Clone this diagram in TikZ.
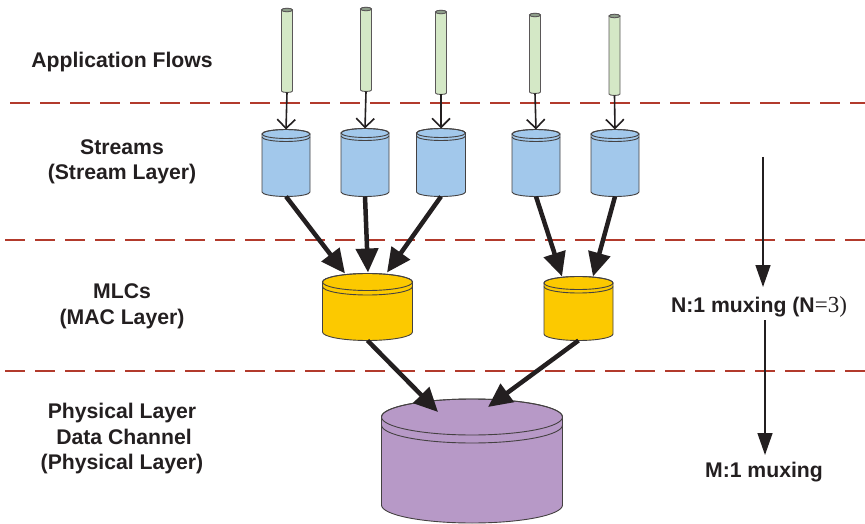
\documentclass[tikz,border=0pt]{standalone}
\usepackage{fontspec}
\setmainfont{Liberation Sans}
\newfontfamily\serifpart{Liberation Serif}
\usetikzlibrary{arrows.meta}
\definecolor{dashred}{HTML}{B23A2C}
\definecolor{streamblue}{HTML}{A2C8EB}
\definecolor{mlcyellow}{HTML}{FCC900}
\definecolor{physpurple}{HTML}{B799C7}
\definecolor{pipegreen}{HTML}{D4E8C6}
\definecolor{pipetop}{HTML}{8E9E8A}
\definecolor{ink}{HTML}{231F20}
\tikzset{
  drumline/.style={draw=ink!85,line width=0.9pt},
  pipeline/.style={draw=ink!75,line width=0.9pt},
  dashline/.style={draw=dashred,line width=2.6pt,dash pattern=on 20pt off 10pt},
  flowarrow/.style={draw=ink,line width=1.6pt,-{Straight Barb[length=9pt,width=18pt,line width=1.6pt]}},
  bigarrow/.style={draw=ink,line width=4.5pt,-{Triangle[length=24pt,width=22pt]}},
  muxarrow/.style={draw=ink,line width=1.4pt,-{Triangle[length=22pt,width=15pt]}},
  lbl/.style={text=ink,font=\fontsize{21.2}{25}\selectfont\bfseries,anchor=base,inner sep=0pt}
}
% name, cx, y of top ellipse centre, y of bottom ellipse centre, rx, ry, rim gap, fill
\newcommand\drum[8]{%
  \path[drumline,fill=#8] (#2-#5,#3) -- (#2-#5,#4)
     arc[start angle=180,end angle=360,x radius=#5pt,y radius=#6pt]
     -- (#2+#5,#3) arc[start angle=0,end angle=180,x radius=#5pt,y radius=#6pt] -- cycle;
  \draw[drumline] (#2,#3) ellipse[x radius=#5pt,y radius=#6pt];
  \draw[drumline] (#2-#5,#3+#7) arc[start angle=180,end angle=360,x radius=#5pt,y radius=#6pt];
  \coordinate (#1-t) at (#2,#3-#6);
  \coordinate (#1-b) at (#2,#4+#6);
}
% name, cx, ytop, ybottom
\newcommand\flowpipe[4]{%
  \path[pipeline,fill=pipegreen] (#2-5.5,#3) -- (#2-5.5,#4)
     arc[start angle=180,end angle=360,x radius=5.5pt,y radius=1.5pt]
     -- (#2+5.5,#3) arc[start angle=0,end angle=180,x radius=5.5pt,y radius=1.5pt] -- cycle;
  \draw[pipeline,fill=pipetop] (#2,#3) ellipse[x radius=5.5pt,y radius=1.8pt];
  \coordinate (#1-b) at (#2,#4+1.5);
}
\begin{document}
\begin{tikzpicture}[x=1pt,y=-1pt]
\useasboundingbox (0,0) rectangle (865,524);
% layer separators
\draw[dashline] (10,103) -- (865,103);
\draw[dashline] (5,240) -- (865,240);
\draw[dashline] (5,371) -- (865,371);
% left labels
\node[lbl] (lapp) at (122,68) {Application Flows};
\node[lbl] (lstr1) at (122,154) {Streams};
\node[lbl] (lstr2) at (122,179) {(Stream Layer)};
\node[lbl] (lmlc1) at (122,298) {MLCs};
\node[lbl] (lmlc2) at (122,324) {(MAC Layer)};
\node[lbl] (lphy1) at (122,418) {Physical Layer};
\node[lbl] (lphy2) at (124,444) {Data Channel};
\node[lbl] (lphy3) at (122,469) {(Physical Layer)};
% right labels
\node[lbl] (nmux) at (759,312) {N:1 muxing (N{\serifpart\mdseries\fontsize{23}{25}\selectfont=3)}};
\node[lbl] (mmux) at (764,477) {M:1 muxing};
% application flows
\flowpipe{p1}{287}{10}{91}
\flowpipe{p2}{366}{9}{90}
\flowpipe{p3}{441}{12}{93}
\flowpipe{p4}{535}{15}{92}
\flowpipe{p5}{614.5}{16}{94}
% streams
\drum{s1}{286}{134}{192}{24}{4.5}{3}{streamblue}
\drum{s2}{365}{133}{192}{24}{4.5}{3}{streamblue}
\drum{s3}{441}{133}{192}{24.5}{4.5}{3}{streamblue}
\drum{s4}{536}{134}{192}{24}{4.5}{3}{streamblue}
\drum{s5}{615}{134}{192}{24}{4.5}{3}{streamblue}
% MLCs
\drum{m1}{367.5}{282}{332}{45}{8.5}{4.5}{mlcyellow}
\drum{m2}{578.5}{283}{334}{34.5}{6.5}{3.5}{mlcyellow}
% physical channel
\drum{ph}{472}{417}{505}{90.5}{18}{8}{physpurple}
% flow arrows
\draw[flowarrow] (p1-b) -- (s1-t);
\draw[flowarrow] (p2-b) -- (s2-t);
\draw[flowarrow] (p3-b) -- (s3-t);
\draw[flowarrow] (p4-b) -- (s4-t);
\draw[flowarrow] (p5-b) -- (s5-t);
% stream -> MLC
\draw[bigarrow] (s1-b) -- ([xshift=-22.5pt]m1-t);
\draw[bigarrow] (s2-b) -- ([xshift=0.5pt,yshift=1pt]m1-t);
\draw[bigarrow] (s3-b) -- ([xshift=19.5pt,yshift=1pt]m1-t);
\draw[bigarrow] (s4-b) -- ([xshift=-16.5pt]m2-t);
\draw[bigarrow] (s5-b) -- ([xshift=14.5pt]m2-t);
% MLC -> physical
\draw[bigarrow] (m1-b) -- ([xshift=-34pt,yshift=-13pt]ph-t);
\draw[bigarrow] (m2-b) -- ([xshift=16pt,yshift=-8pt]ph-t);
% muxing arrows
\coordinate (na) at (763,157);
\coordinate (nb) at (763,287);
\coordinate (ma) at (765,320);
\coordinate (mb) at (765,455);
\draw[muxarrow] (na) -- (nb);
\draw[muxarrow] (ma) -- (mb);
\end{tikzpicture}
\end{document}
